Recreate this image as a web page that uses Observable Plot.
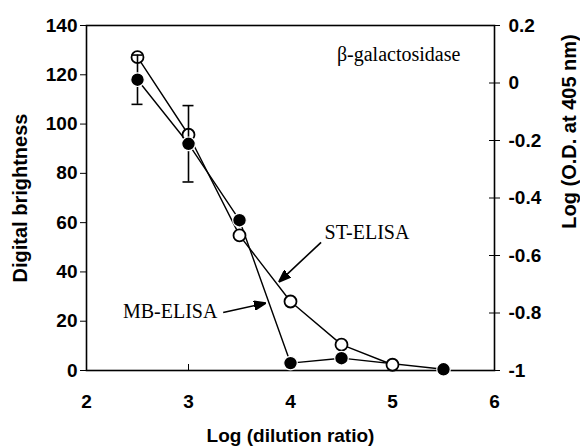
<!DOCTYPE html>
<html>
<head>
<meta charset="utf-8">
<script src="https://cdn.jsdelivr.net/npm/d3@7"></script>
<script src="https://cdn.jsdelivr.net/npm/@observablehq/plot@0.6"></script>
<style>
  html, body { margin: 0; padding: 0; background: #fff; }
</style>
</head>
<body>
<div id="chart"></div>
<script>
// ---- data ----
// MB-ELISA (filled), digital brightness (left axis)
const mbX = [2.5, 3, 3.5, 4, 4.5, 5.5];
const mbBrightness = [118, 92, 61, 3, 5, 0.5];
const mbError = [10, 15.5, 0, 0, 0, 0];
// ST-ELISA (open), Log(O.D. at 405 nm) (right axis)
const stX = [2.5, 3, 3.5, 4, 4.5, 5];
const stLogOD = [0.09, -0.18, -0.53, -0.76, -0.91, -0.98];

const xTicks = [2, 3, 4, 5, 6];
const leftTicks = [0, 20, 40, 60, 80, 100, 120, 140];
const rightTicks = [0.2, 0, -0.2, -0.4, -0.6, -0.8, -1];

const labels = [
  {text: "β-galactosidase", x: 5.06, y: 128},
  {text: "ST-ELISA", x: 4.75, y: 56},
  {text: "MB-ELISA", x: 2.82, y: 24}
];
const arrows = [
  {x1: 4.30, y1: 52, x2: 3.90, y2: 36.5},
  {x1: 3.34, y1: 23.5, x2: 3.74, y2: 27.2}
];

// mapping of the right axis onto the left scale
const odMin = -1, odMax = 0.2, bMax = 140;
const odToB = v => (v - odMin) / (odMax - odMin) * bMax;
const bToOd = v => odMin + v / bMax * (odMax - odMin);

const mb = mbX.map((x, i) => ({x, y: mbBrightness[i], e: mbError[i]}));
const st = stX.map((x, i) => ({x, y: odToB(stLogOD[i])}));
const errs = mb.filter(d => d.e > 0);

const W = 580, H = 446, ml = 86, mr = 86, mt = 25, mb_ = 76;
const innerH = H - mt - mb_, innerW = W - ml - mr;

const headMarker = (color, context) => {
  const m = d3.create("svg:marker")
    .attr("viewBox", "-6 -5 12 10")
    .attr("markerWidth", 12)
    .attr("markerHeight", 10)
    .attr("markerUnits", "userSpaceOnUse")
    .attr("refX", 4)
    .attr("orient", "auto");
  m.append("path").attr("d", "M-6,-4.5L6,0L-6,4.5Z").attr("fill", "black");
  return m.node();
};

const serif = "'Liberation Serif', 'Times New Roman', serif";

const baseMarks = [
  Plot.frame({stroke: "black", strokeWidth: 1.6}),
  Plot.axisY({anchor: "left", ticks: leftTicks, tickSize: 6, tickPadding: 3, label: null, tickFormat: d => String(d)}),
  Plot.axisY({anchor: "right", ticks: rightTicks.map(odToB), tickSize: 5, tickPadding: 9, label: null,
              tickFormat: v => String(Math.round(bToOd(v) * 10) / 10)}),
  Plot.tickY(rightTicks.map(odToB), {y: d => d, insetLeft: innerW - 5, stroke: "black"}),
  Plot.axisX({ticks: xTicks, tickSize: 0, tickPadding: 24, label: null, tickFormat: d => String(d)}),
  Plot.tickX(xTicks, {x: d => d, insetTop: innerH - 6, stroke: "black"}),
  Plot.text(["Digital brightness"], {frameAnchor: "left", textAnchor: "middle", dx: -66, rotate: -90, fontSize: 20, fontWeight: "bold"}),
  Plot.text(["Log (O.D. at 405 nm)"], {frameAnchor: "top-right", textAnchor: "middle", dx: 67, dy: 106, rotate: -90, fontSize: 20, fontWeight: "bold"}),
  Plot.text(["Log (dilution ratio)"], {frameAnchor: "bottom", dy: 71, fontSize: 19, fontWeight: "bold"}),
  Plot.line(mb, {x: "x", y: "y", stroke: "black", strokeWidth: 1.4}),
  Plot.line(st, {x: "x", y: "y", stroke: "black", strokeWidth: 1.4}),
  Plot.dot(st, {x: "x", y: "y", r: 6, fill: "white", stroke: "black", strokeWidth: 1.8}),
  Plot.ruleX(errs, {x: "x", y1: d => d.y - d.e, y2: d => d.y + d.e, stroke: "black", strokeWidth: 1.6}),
  Plot.ruleY(errs, {x1: "x", x2: "x", y: d => d.y - d.e, insetLeft: -5.5, insetRight: -5.5, stroke: "black", strokeWidth: 1.6}),
  Plot.ruleY(errs, {x1: "x", x2: "x", y: d => d.y + d.e, insetLeft: -5.5, insetRight: -5.5, stroke: "black", strokeWidth: 1.6}),
  Plot.dot(mb, {x: "x", y: "y", r: 6.8, fill: "black", stroke: "white", strokeWidth: 1.2}),
  Plot.text(labels, {x: "x", y: "y", text: "text", textAnchor: "middle", fontFamily: serif, fontWeight: "normal", fontSize: 20})
];

const opts = marks => ({
  width: W, height: H,
  marginLeft: ml, marginRight: mr, marginTop: mt, marginBottom: mb_,
  x: {domain: [2, 6]},
  y: {domain: [0, 140]},
  style: {fontFamily: "'Liberation Sans', Arial, sans-serif", fontSize: "19px", fontWeight: "bold", color: "black", background: "white"},
  marks
});

let chart;
try {
  chart = Plot.plot(opts([...baseMarks,
    Plot.link(arrows, {x1: "x1", y1: "y1", x2: "x2", y2: "y2", stroke: "black", strokeWidth: 1.6, markerEnd: headMarker})]));
} catch (e) {
  chart = Plot.plot(opts([...baseMarks,
    Plot.arrow(arrows, {x1: "x1", y1: "y1", x2: "x2", y2: "y2", stroke: "black", strokeWidth: 1.8, headLength: 11})]));
}
document.getElementById("chart").appendChild(chart);
</script>
</body>
</html>
